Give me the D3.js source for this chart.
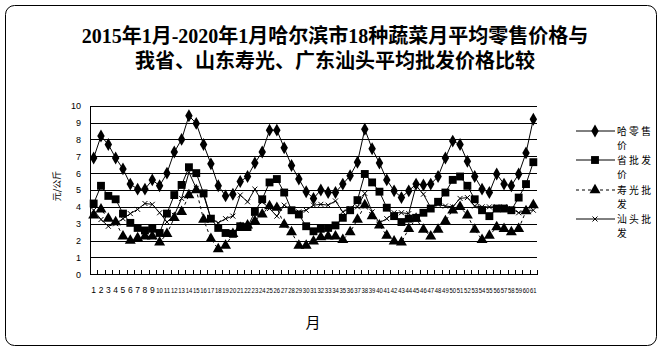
<!DOCTYPE html>
<html><head><meta charset="utf-8">
<script src="https://cdn.jsdelivr.net/npm/d3@7/dist/d3.min.js"></script>
<style>
html,body{margin:0;padding:0;background:#fff;}
svg{display:block;}
</style></head>
<body><svg id="c" width="662" height="353"></svg>
<script>
const months = d3.range(1, 62);
const yTicks = [0,1,2,3,4,5,6,7,8,9,10];
const titleLines = ["2015年1月-2020年1月哈尔滨市18种蔬菜月平均零售价格与", "我省、山东寿光、广东汕头平均批发价格比较"];
const seriesNames = [["哈零售", "价"], ["省批发", "价"], ["寿光批", "发"], ["汕头批", "发"]];
const harbinRetail = [6.9,8.2,7.7,6.9,6.25,5.35,5.05,5.05,5.6,5.25,
  6.0,7.25,8.0,9.4,8.95,7.7,6.55,5.25,4.65,4.75,
  5.5,5.8,6.6,7.25,8.55,8.55,7.5,6.45,5.65,4.9,
  4.5,5.0,4.85,4.85,5.35,5.85,6.65,8.6,7.45,6.6,
  5.6,4.95,4.55,4.95,5.35,5.3,5.35,5.8,6.9,7.9,
  7.7,6.7,5.8,5.05,4.85,5.95,5.35,5.25,5.95,7.2,9.2];
const provinceWholesale = [4.2,5.25,4.65,4.45,3.6,3.05,2.75,2.6,2.7,2.45,
  3.6,4.7,5.3,6.35,6.0,4.8,3.3,2.75,2.45,2.4,
  2.85,2.8,3.7,4.45,5.45,5.65,4.85,3.8,3.55,2.85,
  2.55,2.7,2.75,2.9,3.35,3.8,4.4,5.95,5.45,4.9,
  3.95,3.45,3.1,3.3,3.35,3.65,3.9,4.3,4.85,5.6,
  5.8,5.25,4.45,3.8,3.45,3.9,3.9,3.8,4.55,5.35,6.65];
const shouguangWholesale = [3.5,3.85,3.3,3.1,2.25,2.0,2.15,2.25,2.25,1.9,
  2.4,3.35,3.7,4.7,5.0,3.25,2.1,1.5,1.7,2.4,
  2.75,2.9,3.15,3.55,4.05,3.95,2.95,2.5,1.7,1.7,
  1.95,2.2,2.25,2.25,2.05,2.5,3.25,4.1,3.45,2.9,
  2.3,1.95,1.9,2.7,3.3,2.65,2.25,2.65,3.15,3.8,
  4.0,3.5,2.65,2.05,2.3,2.8,2.7,2.5,2.7,3.75,4.1];
const shantouWholesale = [3.8,3.25,2.85,3.0,3.3,3.6,3.85,4.2,4.15,3.65,
  3.1,3.5,4.5,6.05,5.1,4.7,3.3,3.05,3.3,3.45,
  4.7,4.3,5.05,4.3,3.9,3.45,4.1,3.8,3.7,3.8,
  4.1,4.15,4.1,4.35,3.7,3.9,4.0,4.8,3.7,3.05,
  3.3,3.65,3.65,3.6,5.25,4.75,3.95,4.15,4.05,4.0,
  4.5,4.55,4.05,4.0,4.0,4.0,4.0,3.9,3.65,3.8,3.8];

const svg = d3.select("#c");
const L = 90, R = 537, T = 105.7, B = 274.3;

// outer frame
svg.append("rect").attr("x",5.5).attr("y",5.5).attr("width",651).attr("height",340)
  .attr("rx",9).attr("fill","#fff").attr("stroke","#000").attr("stroke-width",1);

// title
const title = svg.append("text").attr("text-anchor","middle")
  .attr("font-family","'Liberation Serif','Noto Sans CJK SC',serif")
  .attr("font-weight","bold").attr("font-size",20).attr("fill","#000");
titleLines.forEach((t,i)=>title.append("tspan").attr("x",335).attr("y",43+i*25).text(t));

const x = d3.scaleBand().domain(months).range([L,R]).padding(0);
const y = d3.scaleLinear().domain([0,10]).range([B,T]);
const xb = d3.scaleLinear().domain([0,61]).range([L,R]);

// gridlines + y axis
const ya = svg.append("g").attr("transform",`translate(${L},0)`)
  .call(d3.axisLeft(y).tickValues(yTicks).tickSize(-(R-L)).tickPadding(9));
ya.select(".domain").remove();
ya.selectAll(".tick line").attr("stroke","#000").attr("stroke-width",1).attr("shape-rendering","crispEdges");
ya.selectAll(".tick text").attr("font-family","'Liberation Sans',Arial,sans-serif").attr("font-size",9).attr("fill","#000");
svg.append("line").attr("x1",L).attr("x2",L).attr("y1",T).attr("y2",B)
  .attr("stroke","#000").attr("shape-rendering","crispEdges");

// x axis boundary ticks
const xt = svg.append("g").attr("transform",`translate(0,${B})`)
  .call(d3.axisBottom(xb).tickValues(d3.range(0,62)).tickSize(-4).tickFormat(""));
xt.selectAll("line,path").attr("stroke","#000").attr("shape-rendering","crispEdges");
// x labels
const xl = svg.append("g").attr("transform",`translate(0,${B})`)
  .call(d3.axisBottom(x).tickSize(0).tickPadding(13));
xl.select(".domain").remove();
xl.selectAll(".tick text").attr("font-family","'Liberation Sans Narrow','Liberation Sans',Arial,sans-serif")
  .attr("font-size",8.5).attr("fill","#000")
  .each(function(d){ if (d >= 10) d3.select(this).attr("font-size",7.5).attr("textLength",6.6).attr("lengthAdjust","spacingAndGlyphs"); });

// axis titles
svg.append("text").attr("x",313).attr("y",328).attr("text-anchor","middle")
  .attr("font-family","'Noto Sans CJK SC',sans-serif").attr("font-size",15).text("月");
svg.append("text").attr("transform","translate(60,186) rotate(-90)").attr("text-anchor","middle")
  .attr("font-family","'Noto Sans CJK SC',sans-serif").attr("font-size",9).attr("fill","#000").text("元/公斤");

const cx = i => x(months[i]) + x.bandwidth()/2;
const series = [
  {vals: harbinRetail, dash: null, sym: d3.symbolDiamond, size: 48},
  {vals: provinceWholesale, dash: null, sym: d3.symbolSquare, size: 62},
  {vals: shouguangWholesale, dash: "3,3", sym: d3.symbolTriangle, size: 52},
  {vals: shantouWholesale, dash: null, sym: "x", size: 0}
];
const line = d3.line().x((d,i)=>cx(i)).y(d=>y(d));

function marker(g, s, px, py){
  if (s.sym === "x") {
    const r = 2.5;
    g.append("path").attr("d",`M${px-r},${py-r}L${px+r},${py+r}M${px-r},${py+r}L${px+r},${py-r}`)
      .attr("stroke","#000").attr("stroke-width",1).attr("fill","none");
  } else {
    g.append("path").attr("d", d3.symbol().type(s.sym).size(s.size)())
      .attr("transform",`translate(${px},${py})`).attr("fill","#000");
  }
}

series.forEach(s=>{
  const g = svg.append("g");
  g.append("path").datum(s.vals).attr("d",line).attr("fill","none")
    .attr("stroke","#000").attr("stroke-width",1).attr("stroke-dasharray",s.dash);
  s.vals.forEach((v,i)=>marker(g,s,cx(i),y(v)));
});

// legend
const legY = [131, 160, 190, 219];
series.forEach((s,k)=>{
  const g = svg.append("g");
  g.append("line").attr("x1",576).attr("x2",615).attr("y1",legY[k]).attr("y2",legY[k])
    .attr("stroke","#000").attr("stroke-width",1).attr("stroke-dasharray",s.dash);
  marker(g,s,595,legY[k]);
  const fam = "'Noto Sans CJK SC',sans-serif";
  g.append("text").attr("font-family",fam).attr("font-size",9.8).attr("fill","#000")
    .attr("x",617).attr("y",legY[k]+4).attr("textLength",34).attr("lengthAdjust","spacing").text(seriesNames[k][0]);
  g.append("text").attr("font-family",fam).attr("font-size",9.8).attr("fill","#000")
    .attr("x",617).attr("y",legY[k]+18.4).text(seriesNames[k][1]);
});
</script></body></html>
